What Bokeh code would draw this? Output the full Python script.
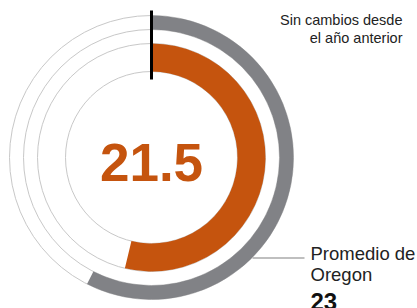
import math
from bokeh.plotting import figure
from bokeh.models import Range1d
from bokeh.core.properties import value
from bokeh.embed import file_html
from bokeh.resources import INLINE

# ---- data ----
county_value = 21.5
county_label = "21.5"
oregon_avg = 23
oregon_avg_label = "23"
scale_max = 40
change_note = ["Sin cambios desde", "el año anterior"]
avg_title = ["Promedio de", "Oregon"]

# ---- layout (pixel coords, y flipped to negative) ----
W, H = 417, 308
p = figure(width=W, height=H, output_backend="svg", toolbar_location=None,
           x_range=Range1d(0, W), y_range=Range1d(-H, 0),
           min_border=0, outline_line_color=None)
p.axis.visible = False
p.grid.visible = False
p.background_fill_color = "white"
p.border_fill_color = "white"

cx, cy = 151, -157
FONT = value("Liberation Sans")
ORANGE = "#C5540E"
GRAY = "#818286"

def mid(baseline, fs):
    # convert a desired alphabetic baseline (page px) to a "middle" anchor
    return -(baseline - 0.31 * fs)

# thin guide circles
for r in [142, 128, 114, 86]:
    p.circle(x=[cx], y=[cy], radius=r, fill_color=None, line_color="#C8C8C8", line_width=1)

def end_angle(v):
    return math.pi / 2 - 2 * math.pi * v / scale_max

# Oregon average ring
p.annular_wedge(x=[cx], y=[cy], inner_radius=128, outer_radius=142,
                start_angle=math.pi / 2, end_angle=end_angle(oregon_avg), direction="clock",
                fill_color=GRAY, line_color=None)
# County value ring
p.annular_wedge(x=[cx], y=[cy], inner_radius=86, outer_radius=114,
                start_angle=math.pi / 2, end_angle=end_angle(county_value), direction="clock",
                fill_color=ORANGE, line_color=None)

# start marker
p.segment(x0=[cx], y0=[cy + 147], x1=[cx], y1=[cy + 78], line_color="black", line_width=3)

# leader line to average label
p.segment(x0=[252], y0=[-257.5], x1=[304], y1=[-257.5], line_color="#AAAAAA", line_width=1.5)

# central value
p.text(x=[cx], y=[mid(178, 53)], text=[county_label], text_font=FONT, text_font_style="bold",
       text_font_size="53px", text_color=ORANGE, text_align="center", text_baseline="middle")

# change note (top right)
p.text(x=[402, 402], y=[mid(24.3, 14.5), mid(41.5, 14.5)], text=change_note, text_font=FONT,
       text_font_size="14.5px", text_color="#222222", text_align="right", text_baseline="middle")

# average label
p.text(x=[310, 310], y=[mid(259, 18.5), mid(279.5, 18.5)], text=avg_title, text_font=FONT,
       text_font_size="18.5px", text_color="#222222", text_align="left", text_baseline="middle")
p.text(x=[310], y=[mid(308, 24)], text=[oregon_avg_label], text_font=FONT, text_font_style="bold",
       text_font_size="24px", text_color="#111111", text_align="left", text_baseline="middle")

open("out.html", "w").write(file_html(p, INLINE))
